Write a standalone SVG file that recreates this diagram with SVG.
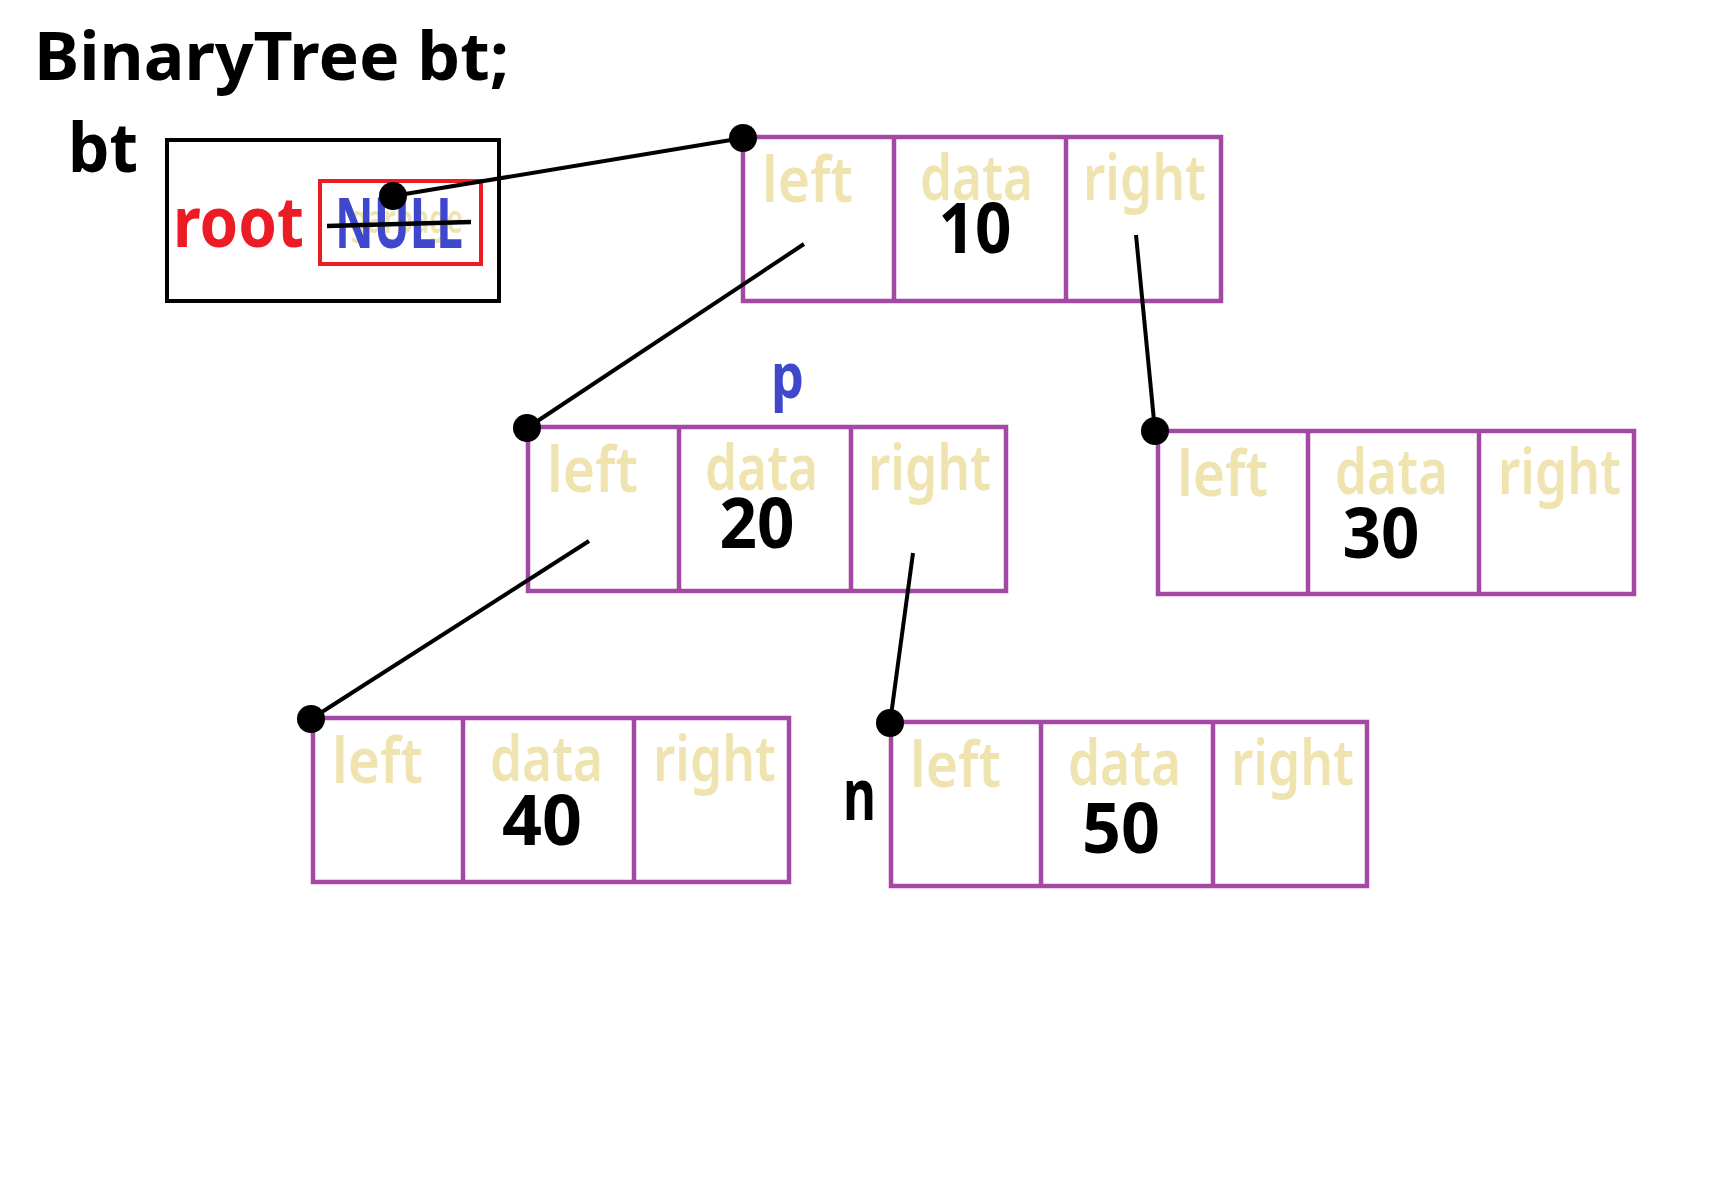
<svg xmlns="http://www.w3.org/2000/svg" width="1726" height="1194" viewBox="0 0 1726 1194">
<style>
text { font-family: "Noto Sans", "DejaVu Sans", sans-serif; }
.cell { fill: #ffffff; stroke: #a349a4; stroke-width: 4.5; }
.div { stroke: #a349a4; stroke-width: 4.5; }
.lbl { fill: #efe4b0; font-size: 64px; font-weight: 600; }
.num { fill: #000000; font-size: 70px; font-weight: bold; text-anchor: middle; }
.big { fill: #000000; font-weight: bold; }
.conn { stroke: #000000; stroke-width: 4; fill: none; }
.dot { fill: #000000; }
</style>
<rect width="1726" height="1194" fill="#ffffff"/>

<g id="title">
<text class="big" x="34" y="80" font-size="66" textLength="475" lengthAdjust="spacingAndGlyphs">BinaryTree bt;</text>
</g>

<g id="bt">
<text class="big" x="68" y="172" font-size="68" textLength="70" lengthAdjust="spacingAndGlyphs">bt</text>
<rect x="167" y="140" width="332" height="161" fill="none" stroke="#000000" stroke-width="4"/>
<text x="173" y="247" font-size="70" font-weight="bold" fill="#ed1c24" textLength="131" lengthAdjust="spacingAndGlyphs">root</text>
<rect x="320" y="181" width="161" height="83" fill="none" stroke="#ed1c24" stroke-width="4"/>
<text x="350" y="233" font-size="40" font-weight="600" fill="#efe4b0" textLength="113" lengthAdjust="spacingAndGlyphs">garbage</text>
<text x="335" y="248" font-size="70" font-weight="bold" fill="#3f48cc" textLength="128" lengthAdjust="spacingAndGlyphs">NULL</text>
<line x1="327" y1="226" x2="471" y2="222" stroke="#000000" stroke-width="4.5"/>
</g>

<g id="label-p">
<text x="771" y="398" font-size="62" font-weight="bold" fill="#3f48cc" textLength="33" lengthAdjust="spacingAndGlyphs">p</text>
</g>
<g id="label-n">
<text class="big" x="843" y="820" font-size="72" textLength="33" lengthAdjust="spacingAndGlyphs">n</text>
</g>

<g id="node10" transform="translate(743,137)">
<rect class="cell" x="0" y="0" width="478" height="164"/>
<line class="div" x1="151" y1="0" x2="151" y2="164"/>
<line class="div" x1="323" y1="0" x2="323" y2="164"/>
<text class="lbl" x="19" y="65" textLength="91" lengthAdjust="spacingAndGlyphs">left</text>
<text class="lbl" x="177" y="63" textLength="113" lengthAdjust="spacingAndGlyphs">data</text>
<text class="lbl" x="340" y="63" textLength="123" lengthAdjust="spacingAndGlyphs">right</text>
<text class="num" x="232" y="116" textLength="73" lengthAdjust="spacingAndGlyphs">10</text>
</g>

<g id="node20" transform="translate(528,427)">
<rect class="cell" x="0" y="0" width="478" height="164"/>
<line class="div" x1="151" y1="0" x2="151" y2="164"/>
<line class="div" x1="323" y1="0" x2="323" y2="164"/>
<text class="lbl" x="19" y="65" textLength="91" lengthAdjust="spacingAndGlyphs">left</text>
<text class="lbl" x="177" y="63" textLength="113" lengthAdjust="spacingAndGlyphs">data</text>
<text class="lbl" x="340" y="63" textLength="123" lengthAdjust="spacingAndGlyphs">right</text>
<text class="num" x="229" y="121" textLength="75" lengthAdjust="spacingAndGlyphs">20</text>
</g>

<g id="node30" transform="translate(1158,431)">
<rect class="cell" x="0" y="0" width="476" height="163"/>
<line class="div" x1="150" y1="0" x2="150" y2="163"/>
<line class="div" x1="321" y1="0" x2="321" y2="163"/>
<text class="lbl" x="19" y="65" textLength="91" lengthAdjust="spacingAndGlyphs">left</text>
<text class="lbl" x="177" y="63" textLength="113" lengthAdjust="spacingAndGlyphs">data</text>
<text class="lbl" x="340" y="63" textLength="123" lengthAdjust="spacingAndGlyphs">right</text>
<text class="num" x="223" y="127" textLength="77" lengthAdjust="spacingAndGlyphs">30</text>
</g>

<g id="node40" transform="translate(313,718)">
<rect class="cell" x="0" y="0" width="476" height="164"/>
<line class="div" x1="150" y1="0" x2="150" y2="164"/>
<line class="div" x1="321" y1="0" x2="321" y2="164"/>
<text class="lbl" x="19" y="65" textLength="91" lengthAdjust="spacingAndGlyphs">left</text>
<text class="lbl" x="177" y="63" textLength="113" lengthAdjust="spacingAndGlyphs">data</text>
<text class="lbl" x="340" y="63" textLength="123" lengthAdjust="spacingAndGlyphs">right</text>
<text class="num" x="229" y="127" textLength="80" lengthAdjust="spacingAndGlyphs">40</text>
</g>

<g id="node50" transform="translate(891,722)">
<rect class="cell" x="0" y="0" width="476" height="164"/>
<line class="div" x1="150" y1="0" x2="150" y2="164"/>
<line class="div" x1="322" y1="0" x2="322" y2="164"/>
<text class="lbl" x="19" y="65" textLength="91" lengthAdjust="spacingAndGlyphs">left</text>
<text class="lbl" x="177" y="63" textLength="113" lengthAdjust="spacingAndGlyphs">data</text>
<text class="lbl" x="340" y="63" textLength="123" lengthAdjust="spacingAndGlyphs">right</text>
<text class="num" x="230" y="131" textLength="78" lengthAdjust="spacingAndGlyphs">50</text>
</g>

<g id="connectors">
<line class="conn" x1="393" y1="196" x2="743" y2="138"/>
<circle class="dot" cx="393" cy="196" r="14"/>
<circle class="dot" cx="743" cy="138" r="14"/>
<line class="conn" x1="804" y1="244" x2="527" y2="428"/>
<circle class="dot" cx="527" cy="428" r="14"/>
<line class="conn" x1="1136" y1="235" x2="1155" y2="431"/>
<circle class="dot" cx="1155" cy="431" r="14"/>
<line class="conn" x1="589" y1="541" x2="311" y2="719"/>
<circle class="dot" cx="311" cy="719" r="14"/>
<line class="conn" x1="913" y1="553" x2="890" y2="723"/>
<circle class="dot" cx="890" cy="723" r="14"/>
</g>
</svg>
